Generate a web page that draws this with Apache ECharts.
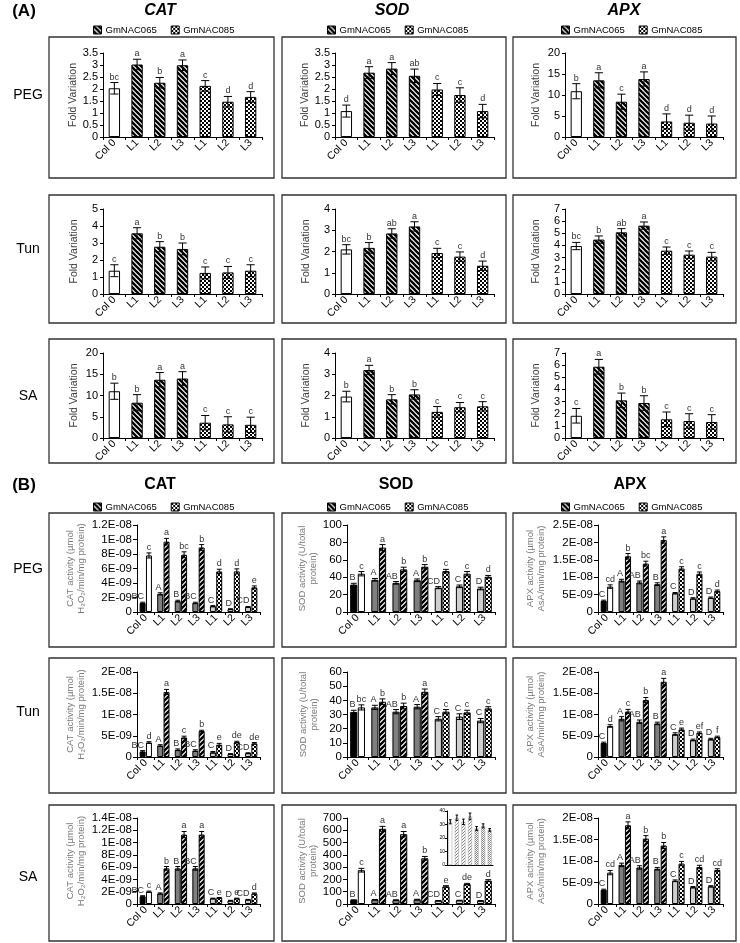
<!DOCTYPE html>
<html>
<head>
<meta charset="utf-8">
<title>GmNAC065 / GmNAC085 antioxidant enzymes</title>
<script src="https://cdn.jsdelivr.net/npm/echarts@6/dist/echarts.min.js"></script>
<style>
  html, body { margin: 0; padding: 0; background: #fff; }
  #chart { width: 740px; height: 943px; }
</style>
</head>
<body>
<div id="chart"></div>
<script>
var categories = ['Col 0', 'L1', 'L2', 'L3', 'L1', 'L2', 'L3'];
var legendNames = ['GmNAC065', 'GmNAC085'];
var enzymes = ['CAT', 'SOD', 'APX'];
var stresses = ['PEG', 'Tun', 'SA'];

// (A) fold variation, rows PEG / Tun / SA
var aCatPegMean = [2.03, 3.02, 2.26, 2.99, 2.13, 1.47, 1.67];
var aCatPegErr  = [0.24, 0.22, 0.22, 0.22, 0.22, 0.22, 0.22];
var aCatPegSig  = ['bc', 'a', 'b', 'a', 'c', 'd', 'd'];
var aSodPegMean = [1.08, 2.68, 2.85, 2.55, 1.98, 1.75, 1.08];
var aSodPegErr  = [0.25, 0.25, 0.25, 0.28, 0.25, 0.3, 0.28];
var aSodPegSig  = ['d', 'a', 'a', 'ab', 'c', 'c', 'd'];
var aApxPegMean = [10.9, 13.5, 8.4, 13.8, 3.7, 3.4, 3.2];
var aApxPegErr  = [1.8, 1.8, 1.8, 1.7, 1.8, 1.8, 1.8];
var aApxPegSig  = ['b', 'a', 'c', 'a', 'd', 'd', 'd'];

var aCatTunMean = [1.37, 3.57, 2.78, 2.65, 1.24, 1.27, 1.37];
var aCatTunErr  = [0.35, 0.33, 0.3, 0.35, 0.35, 0.35, 0.35];
var aCatTunSig  = ['c', 'a', 'b', 'b', 'c', 'c', 'c'];
var aSodTunMean = [2.1, 2.17, 2.85, 3.18, 1.93, 1.76, 1.33];
var aSodTunErr  = [0.22, 0.25, 0.22, 0.22, 0.22, 0.22, 0.22];
var aSodTunSig  = ['bc', 'b', 'ab', 'a', 'c', 'c', 'd'];
var aApxTunMean = [3.95, 4.48, 5.08, 5.63, 3.57, 3.24, 3.08];
var aApxTunErr  = [0.3, 0.3, 0.3, 0.3, 0.3, 0.3, 0.35];
var aApxTunSig  = ['bc', 'b', 'ab', 'a', 'c', 'c', 'c'];

var aCatSaMean = [11.0, 8.3, 13.7, 14.0, 3.6, 3.2, 3.1];
var aCatSaErr  = [1.9, 1.9, 1.7, 1.6, 1.7, 1.8, 1.8];
var aCatSaSig  = ['b', 'b', 'a', 'a', 'c', 'c', 'c'];
var aSodSaMean = [1.95, 3.2, 1.82, 2.05, 1.23, 1.45, 1.49];
var aSodSaErr  = [0.25, 0.22, 0.22, 0.22, 0.25, 0.22, 0.22];
var aSodSaSig  = ['b', 'a', 'b', 'b', 'c', 'c', 'c'];
var aApxSaMean = [1.83, 5.87, 3.1, 2.88, 1.54, 1.4, 1.32];
var aApxSaErr  = [0.6, 0.6, 0.6, 0.6, 0.6, 0.6, 0.6];
var aApxSaSig  = ['c', 'a', 'b', 'b', 'c', 'c', 'c'];

var aYMax  = [[3.5, 3.5, 20], [5, 4, 7], [20, 4, 7]];
var aYStep = [[0.5, 0.5, 5], [1, 1, 1], [5, 1, 1]];

// (B) enzyme activity: left (solid) bar with capital letters, right (hatched) bar with small letters
var bCatPegLeft = [1.25e-9, 2.5e-9, 1.5e-9, 1.25e-9, 0.8e-9, 0.4e-9, 0.7e-9];
var bCatPegLeftErr = [0.1e-9, 0.15e-9, 0.12e-9, 0.1e-9, 0.08e-9, 0.05e-9, 0.06e-9];
var bCatPegLeftSig = ['BC', 'A', 'B', 'BC', 'C', 'D', 'CD'];
var bCatPegRight = [7.8e-9, 9.7e-9, 7.9e-9, 8.9e-9, 5.6e-9, 5.6e-9, 3.4e-9];
var bCatPegRightErr = [0.35e-9, 0.45e-9, 0.4e-9, 0.4e-9, 0.3e-9, 0.35e-9, 0.2e-9];
var bCatPegRightSig = ['c', 'a', 'bc', 'b', 'd', 'd', 'e'];

var bSodPegLeft = [31.5, 37, 33.5, 36.5, 28, 29.5, 27];
var bSodPegLeftErr = [1.5, 1.5, 1.5, 1.5, 1.2, 1.5, 1.5];
var bSodPegLeftSig = ['B', 'A', 'AB', 'A', 'CD', 'C', 'D'];
var bSodPegRight = [44, 74, 49, 52, 47, 44, 40.5];
var bSodPegRightErr = [2.5, 3.5, 2.5, 2.5, 2, 2.5, 1.5];
var bSodPegRightSig = ['c', 'a', 'b', 'b', 'c', 'c', 'd'];

var bApxPegLeft = [3.2e-9, 9e-9, 8.5e-9, 8e-9, 5.4e-9, 3.9e-9, 4.1e-9];
var bApxPegLeftErr = [0.2e-9, 0.4e-9, 0.4e-9, 0.4e-9, 0.2e-9, 0.2e-9, 0.2e-9];
var bApxPegLeftSig = ['C', 'A', 'AB', 'B', 'C', 'D', 'D'];
var bApxPegRight = [7.3e-9, 16e-9, 13.9e-9, 20.7e-9, 12.5e-9, 11e-9, 6e-9];
var bApxPegRightErr = [0.5e-9, 0.8e-9, 0.7e-9, 0.9e-9, 0.5e-9, 0.5e-9, 0.3e-9];
var bApxPegRightSig = ['cd', 'b', 'bc', 'a', 'c', 'c', 'd'];

var bCatTunLeft = [1.3e-9, 2.7e-9, 1.7e-9, 1.5e-9, 1.1e-9, 0.7e-9, 0.9e-9];
var bCatTunLeftErr = [0.2e-9, 0.2e-9, 0.2e-9, 0.2e-9, 0.2e-9, 0.1e-9, 0.1e-9];
var bCatTunLeftSig = ['BC', 'A', 'B', 'BC', 'C', 'D', 'CD'];
var bCatTunRight = [3.4e-9, 15.3e-9, 4.6e-9, 6.1e-9, 2.9e-9, 3.5e-9, 3.2e-9];
var bCatTunRightErr = [0.2e-9, 0.6e-9, 0.3e-9, 0.2e-9, 0.3e-9, 0.2e-9, 0.2e-9];
var bCatTunRightSig = ['d', 'a', 'c', 'b', 'e', 'de', 'de'];

var bSodTunLeft = [31.8, 35, 32, 35.5, 27, 28.5, 25.7];
var bSodTunLeftErr = [1.2, 1.5, 1.5, 1.5, 1.5, 2, 1.5];
var bSodTunLeftSig = ['B', 'A', 'AB', 'A', 'C', 'C', 'C'];
var bSodTunRight = [35, 39, 36, 46, 32, 31.5, 34.3];
var bSodTunRightErr = [1.8, 2, 2, 2, 1.5, 1.5, 1.2];
var bSodTunRightSig = ['bc', 'b', 'b', 'a', 'c', 'c', 'c'];

var bApxTunLeft = [3.3e-9, 9e-9, 8.3e-9, 7.9e-9, 5.4e-9, 4e-9, 4.2e-9];
var bApxTunLeftErr = [0.2e-9, 0.5e-9, 0.4e-9, 0.3e-9, 0.3e-9, 0.2e-9, 0.2e-9];
var bApxTunLeftSig = ['C', 'A', 'AB', 'B', 'C', 'D', 'D'];
var bApxTunRight = [7.3e-9, 10.7e-9, 13.4e-9, 17.7e-9, 6.5e-9, 5.7e-9, 4.7e-9];
var bApxTunRightErr = [0.3e-9, 0.5e-9, 0.6e-9, 0.8e-9, 0.3e-9, 0.2e-9, 0.2e-9];
var bApxTunRightSig = ['d', 'c', 'b', 'a', 'e', 'ef', 'f'];

var bCatSaLeft = [1.25e-9, 1.7e-9, 5.8e-9, 5.8e-9, 0.9e-9, 0.55e-9, 0.7e-9];
var bCatSaLeftErr = [0.1e-9, 0.1e-9, 0.3e-9, 0.3e-9, 0.05e-9, 0.05e-9, 0.05e-9];
var bCatSaLeftSig = ['BC', 'A', 'B', 'BC', 'C', 'D', 'CD'];
var bCatSaRight = [2e-9, 5.8e-9, 11.3e-9, 11.3e-9, 1e-9, 0.9e-9, 1.7e-9];
var bCatSaRightErr = [0.1e-9, 0.3e-9, 0.5e-9, 0.5e-9, 0.05e-9, 0.05e-9, 0.1e-9];
var bCatSaRightSig = ['c', 'b', 'a', 'a', 'e', 'e', 'd'];

var bSodSaLeft = [32, 35, 32, 36, 27, 29, 26];
var bSodSaLeftErr = [1.5, 2, 2, 2.5, 1.5, 1.5, 1];
var bSodSaLeftSig = ['B', 'A', 'AB', 'A', 'CD', 'C', 'D'];
var bSodSaRight = [275, 612, 568, 372, 143, 162, 190];
var bSodSaRightErr = [15, 20, 22, 15, 6, 6, 8];
var bSodSaRightSig = ['c', 'a', 'a', 'b', 'e', 'de', 'd'];

var bApxSaLeft = [3.3e-9, 9.1e-9, 8.5e-9, 8.2e-9, 5.4e-9, 3.9e-9, 4.1e-9];
var bApxSaLeftErr = [0.15e-9, 0.4e-9, 0.4e-9, 0.3e-9, 0.2e-9, 0.15e-9, 0.15e-9];
var bApxSaLeftSig = ['C', 'A', 'AB', 'B', 'C', 'D', 'D'];
var bApxSaRight = [7.3e-9, 18.3e-9, 15.2e-9, 13.6e-9, 9.4e-9, 8.6e-9, 7.9e-9];
var bApxSaRightErr = [0.5e-9, 0.8e-9, 0.7e-9, 0.7e-9, 0.5e-9, 0.4e-9, 0.3e-9];
var bApxSaRightSig = ['cd', 'a', 'b', 'b', 'c', 'cd', 'cd'];

var bYMax  = [[1.2e-8, 100, 2.5e-8], [2e-8, 60, 2e-8], [1.4e-8, 700, 2e-8]];
var bYStep = [[2e-9, 20, 5e-9], [5e-9, 10, 5e-9], [2e-9, 100, 5e-9]];
var bYNames = ['CAT activity (µmol\nH₂O₂/min/mg protein)', 'SOD activity (U/total\nprotein)', 'APX activity (µmol\nAsA/min/mg protein)'];

// inset of SOD / SA: the small left bars enlarged
var insetYMax = 40;
var insetYStep = 10;

// ---------------- layout ----------------
var FONT = '"Liberation Sans", Arial, sans-serif';
var colBox = [[49, 274], [282, 506], [513, 736]];
var rowBoxA = [[37, 178], [195, 323], [339, 463]];
var rowBoxB = [[513, 647], [658, 793], [805, 941]];
var plotXA = [[103, 262], [335, 494], [565, 723]];
var plotYA = [[53, 137], [209, 294], [353, 438]];
var plotXB = [[137, 260], [347, 495], [598, 723]];
var plotYB = [[525, 612], [672, 757], [818, 904]];
var nameGapB = [50, 27, 51];

function stripeTile(size, width, forward, fg, bg) {
  var c = document.createElement('canvas');
  c.width = c.height = size;
  var g = c.getContext('2d');
  g.fillStyle = bg;
  g.fillRect(0, 0, size, size);
  g.strokeStyle = fg;
  g.lineWidth = width;
  g.lineCap = 'square';
  g.beginPath();
  for (var k = -1; k <= 1; k++) {
    if (forward) { g.moveTo(k * size, size); g.lineTo(k * size + size, 0); }
    else { g.moveTo(k * size, 0); g.lineTo(k * size + size, size); }
  }
  g.stroke();
  return { image: c, repeat: 'repeat' };
}
function checkerTile(cell, fg, bg) {
  var c = document.createElement('canvas');
  c.width = c.height = cell * 2;
  var g = c.getContext('2d');
  g.fillStyle = bg;
  g.fillRect(0, 0, cell * 2, cell * 2);
  g.fillStyle = fg;
  g.fillRect(0, 0, cell, cell);
  g.fillRect(cell, cell, cell, cell);
  return { image: c, repeat: 'repeat' };
}
var stripeA = stripeTile(5, 2.3, false, '#000', '#fff');
var stripeB = stripeTile(5, 2.3, true, '#000', '#fff');
var checkA = checkerTile(2, '#000', '#fff');
var stripeGray = stripeTile(3, 1, true, '#888', '#fff');
var checkGray = checkerTile(1, '#888', '#fff');
var leftFill = ['#000', '#7f7f7f', '#cfcfcf'];
var rightFill = ['#fff', stripeB, checkA];

function grp(i) { return i === 0 ? 0 : (i <= 3 ? 1 : 2); }

function sciLabel(v) {
  if (v === 0) return '0';
  var e = Math.floor(Math.log10(v) + 1e-9);
  var m = Math.round(v / Math.pow(10, e) * 10) / 10;
  if (m >= 10) { m = m / 10; e += 1; }
  var ae = Math.abs(e);
  return m + 'E' + (e < 0 ? '-' : '+') + (ae < 10 ? '0' : '') + ae;
}

function errorItem(means, errs, sigs, shift, capFrac, fontSize, dx, align) {
  return function (params, api) {
    var i = params.dataIndex;
    var band = api.size([1, 0])[0];
    var x = api.coord([i, means[i]])[0] + shift * band;
    var yT = api.coord([i, means[i] + errs[i]])[1];
    var yB = api.coord([i, Math.max(0, means[i] - errs[i])])[1];
    var h = capFrac * band / 2;
    var st = { stroke: '#000', lineWidth: 1 };
    var kids = [
      { type: 'line', shape: { x1: x, y1: yT, x2: x, y2: yB }, style: st },
      { type: 'line', shape: { x1: x - h, y1: yT, x2: x + h, y2: yT }, style: st },
      { type: 'line', shape: { x1: x - h, y1: yB, x2: x + h, y2: yB }, style: st }
    ];
    if (sigs) {
      kids.push({ type: 'text', style: {
        text: sigs[i], x: x + dx * band, y: yT - 1, align: align, verticalAlign: 'bottom',
        textAlign: align, textVerticalAlign: 'bottom',
        fontSize: fontSize, fontFamily: FONT, fill: '#333'
      } });
    }
    return { type: 'group', children: kids };
  };
}

var grids = [], xAxes = [], yAxes = [], series = [], legends = [], graphics = [];

function addAxes(x0, x1, y0, y1, max, step, opt) {
  grids.push({ left: x0, top: y0, width: x1 - x0, height: y1 - y0, containLabel: false, outerBoundsMode: 'none' });
  var gi = grids.length - 1;
  xAxes.push({
    type: 'category', gridIndex: gi, data: categories,
    axisLine: { show: true, lineStyle: { color: '#000', width: 1 } },
    axisTick: { show: opt.xTicks !== false, length: 3, interval: 0, lineStyle: { color: '#000' } },
    axisLabel: { show: opt.xLabels !== false, rotate: 45, interval: 0, fontSize: 10.5, color: '#000', fontFamily: FONT, margin: 4 },
    splitLine: { show: false }
  });
  var lab = opt.labelSize || 11.5;
  yAxes.push({
    type: 'value', gridIndex: gi, min: 0, max: max, interval: step,
    axisLine: { show: true, lineStyle: { color: '#000', width: 1 } },
    axisTick: { show: true, length: opt.tickLen || 3, lineStyle: { color: '#000' } },
    axisLabel: { fontSize: lab, lineHeight: Math.round(lab * 0.8), color: '#000', fontFamily: FONT, margin: opt.labelMargin || 5,
      formatter: opt.formatter, showMaxLabel: true, showMinLabel: true, hideOverlap: false },
    splitLine: { show: false },
    name: opt.name || '', nameLocation: 'middle', nameGap: opt.nameGap || 0,
    nameTextStyle: { fontSize: opt.nameSize || 10.5, color: opt.nameColor || '#404040', fontFamily: FONT, lineHeight: 11 }
  });
  return gi;
}

var aMeans = [[aCatPegMean, aSodPegMean, aApxPegMean], [aCatTunMean, aSodTunMean, aApxTunMean], [aCatSaMean, aSodSaMean, aApxSaMean]];
var aErrs = [[aCatPegErr, aSodPegErr, aApxPegErr], [aCatTunErr, aSodTunErr, aApxTunErr], [aCatSaErr, aSodSaErr, aApxSaErr]];
var aSigs = [[aCatPegSig, aSodPegSig, aApxPegSig], [aCatTunSig, aSodTunSig, aApxTunSig], [aCatSaSig, aSodSaSig, aApxSaSig]];

var bLeft = [[bCatPegLeft, bSodPegLeft, bApxPegLeft], [bCatTunLeft, bSodTunLeft, bApxTunLeft], [bCatSaLeft, bSodSaLeft, bApxSaLeft]];
var bLeftErr = [[bCatPegLeftErr, bSodPegLeftErr, bApxPegLeftErr], [bCatTunLeftErr, bSodTunLeftErr, bApxTunLeftErr], [bCatSaLeftErr, bSodSaLeftErr, bApxSaLeftErr]];
var bLeftSig = [[bCatPegLeftSig, bSodPegLeftSig, bApxPegLeftSig], [bCatTunLeftSig, bSodTunLeftSig, bApxTunLeftSig], [bCatSaLeftSig, bSodSaLeftSig, bApxSaLeftSig]];
var bRight = [[bCatPegRight, bSodPegRight, bApxPegRight], [bCatTunRight, bSodTunRight, bApxTunRight], [bCatSaRight, bSodSaRight, bApxSaRight]];
var bRightErr = [[bCatPegRightErr, bSodPegRightErr, bApxPegRightErr], [bCatTunRightErr, bSodTunRightErr, bApxTunRightErr], [bCatSaRightErr, bSodSaRightErr, bApxSaRightErr]];
var bRightSig = [[bCatPegRightSig, bSodPegRightSig, bApxPegRightSig], [bCatTunRightSig, bSodTunRightSig, bApxTunRightSig], [bCatSaRightSig, bSodSaRightSig, bApxSaRightSig]];

var r, c;
// ---- section A ----
for (r = 0; r < 3; r++) {
  for (c = 0; c < 3; c++) {
    var gi = addAxes(plotXA[c][0], plotXA[c][1], plotYA[r][0], plotYA[r][1], aYMax[r][c], aYStep[r][c],
      { name: 'Fold Variation', nameGap: 23, labelSize: 11 });
    var m = aMeans[r][c];
    var groups = [['Col 0', '#fff', 0], [legendNames[0], stripeA, 1], [legendNames[1], checkA, 2]];
    groups.forEach(function (gr) {
      series.push({
        type: 'bar', name: gr[0], xAxisIndex: gi, yAxisIndex: gi,
        barWidth: '50%', barGap: '-100%',
        itemStyle: { color: gr[1], borderColor: '#000', borderWidth: 1 },
        data: m.map(function (v, i) { return grp(i) === gr[2] ? v : '-'; })
      });
    });
    series.push({
      type: 'custom', xAxisIndex: gi, yAxisIndex: gi, z: 5,
      renderItem: errorItem(m, aErrs[r][c], aSigs[r][c], 0, 0.36, 9, 0, 'center'),
      data: m.map(function (v, i) { return [i, v]; })
    });
  }
}

// ---- section B ----
var SHIFT = 0.18;
for (r = 0; r < 3; r++) {
  for (c = 0; c < 3; c++) {
    var fmt = c === 1 ? undefined : sciLabel;
    var gb = addAxes(plotXB[c][0], plotXB[c][1], plotYB[r][0], plotYB[r][1], bYMax[r][c], bYStep[r][c],
      { name: bYNames[c], nameGap: nameGapB[c], nameSize: 9.5, nameColor: '#7a7a7a', formatter: fmt, tickLen: 4 });
    var L = bLeft[r][c], R = bRight[r][c];
    series.push({
      type: 'bar', name: 'control', xAxisIndex: gb, yAxisIndex: gb, barWidth: '34%', barGap: '6%',
      itemStyle: { borderColor: '#000', borderWidth: 1 },
      data: L.map(function (v, i) { return { value: v, itemStyle: { color: leftFill[grp(i)] } }; })
    });
    series.push({
      type: 'bar', name: 'line', xAxisIndex: gb, yAxisIndex: gb, barWidth: '34%', barGap: '6%',
      itemStyle: { borderColor: '#000', borderWidth: 1 },
      data: R.map(function (v, i) { return { value: v, itemStyle: { color: rightFill[grp(i)] } }; })
    });
    series.push({
      type: 'custom', xAxisIndex: gb, yAxisIndex: gb, z: 5,
      renderItem: errorItem(L, bLeftErr[r][c], bLeftSig[r][c], -SHIFT, 0.28, 9, 0.08, 'right'),
      data: L.map(function (v, i) { return [i, v]; })
    });
    series.push({
      type: 'custom', xAxisIndex: gb, yAxisIndex: gb, z: 5,
      renderItem: errorItem(R, bRightErr[r][c], bRightSig[r][c], SHIFT, 0.28, 9, 0, 'center'),
      data: R.map(function (v, i) { return [i, v]; })
    });
  }
}

// ---- inset in SOD / SA ----
var gin = addAxes(447, 493, 811, 865, insetYMax, insetYStep,
  { xLabels: false, xTicks: false, labelSize: 5, labelMargin: 2, tickLen: 2 });
var insetFill = ['#fff', stripeGray, checkGray];
series.push({
  type: 'bar', name: 'inset', xAxisIndex: gin, yAxisIndex: gin, barWidth: '60%',
  itemStyle: { borderColor: '#999', borderWidth: 0.5 },
  data: bSodSaLeft.map(function (v, i) { return { value: v, itemStyle: { color: insetFill[grp(i)] } }; })
});
series.push({
  type: 'custom', xAxisIndex: gin, yAxisIndex: gin, z: 5,
  renderItem: errorItem(bSodSaLeft, bSodSaLeftErr, null, 0, 0.4, 5, 0, 'center'),
  data: bSodSaLeft.map(function (v, i) { return [i, v]; })
});

// ---- legends ----
var legendX = [93, 327, 561];
[25, 502].forEach(function (ly) {
  legendX.forEach(function (lx) {
    legends.push({
      data: legendNames, left: lx, top: ly, itemWidth: 8, itemHeight: 8, itemGap: 14,
      padding: 0, selectedMode: false, icon: 'rect',
      itemStyle: { borderColor: '#000', borderWidth: 1 },
      textStyle: { fontSize: 9.5, color: '#000', fontFamily: FONT, padding: [0, 0, 0, -1] }
    });
  });
});

// ---- panel frames and text ----
function frame(x0, x1, y0, y1) {
  graphics.push({ type: 'rect', silent: true, shape: { x: x0, y: y0, width: x1 - x0, height: y1 - y0 },
    style: { fill: 'none', stroke: '#333', lineWidth: 1.3 } });
}
function label(txt, x, y, size, weight, italic) {
  graphics.push({ type: 'text', silent: true, x: x, y: y, style: {
    text: txt, fontSize: size, fontWeight: weight || 'normal', fontStyle: italic ? 'italic' : 'normal',
    fontFamily: FONT, fill: '#000', align: 'center', verticalAlign: 'middle',
    textAlign: 'center', textVerticalAlign: 'middle' } });
}
for (r = 0; r < 3; r++) {
  for (c = 0; c < 3; c++) {
    frame(colBox[c][0], colBox[c][1], rowBoxA[r][0], rowBoxA[r][1]);
    frame(colBox[c][0], colBox[c][1], rowBoxB[r][0], rowBoxB[r][1]);
  }
}
label('(A)', 24, 11, 17, 'bold');
label('(B)', 24, 485, 17, 'bold');
var titleXA = [160, 392, 624];
var titleXB = [160, 396, 630];
enzymes.forEach(function (e, i) {
  label(e, titleXA[i], 11, 16, 'bold', true);
  label(e, titleXB[i], 485, 16, 'bold', false);
});
var rowYA = [95, 249, 396];
var rowYB = [569, 712, 877];
stresses.forEach(function (s, i) {
  label(s, 28, rowYA[i], 14);
  label(s, 28, rowYB[i], 14);
});

var chart = echarts.init(document.getElementById('chart'), null, { renderer: 'canvas' });
chart.setOption({
  animation: false,
  backgroundColor: '#fff',
  textStyle: { fontFamily: FONT },
  grid: grids,
  xAxis: xAxes,
  yAxis: yAxes,
  legend: legends,
  graphic: graphics,
  series: series
});
</script>
</body>
</html>
